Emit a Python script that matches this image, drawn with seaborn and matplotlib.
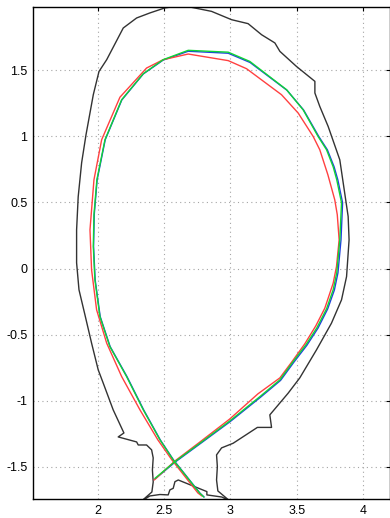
import numpy as np
import pandas as pd
import matplotlib
matplotlib.use("Agg")
import matplotlib.pyplot as plt
from matplotlib.ticker import FuncFormatter
import seaborn as sns

# Vessel wall outline (R, Z)
wall_r = [2.330, 2.407, 2.417, 2.411, 2.417, 2.405, 2.367, 2.304, 2.292, 2.153,
          2.196, 2.115, 2.040, 2.002, 1.952, 1.902, 1.857, 1.839, 1.839, 1.851,
          1.877, 1.910, 1.965, 2.008, 2.066, 2.191, 2.292, 2.392, 2.505, 2.618,
          2.694, 2.857, 3.008, 3.133, 3.235, 3.335, 3.373, 3.498, 3.637, 3.637,
          3.674, 3.737, 3.825, 3.888, 3.895, 3.876, 3.838, 3.762, 3.649, 3.523,
          3.435, 3.297, 3.310, 3.203, 3.020, 2.933, 2.895, 2.901, 2.895, 2.905,
          2.950, 2.995, 2.935, 2.822, 2.822, 2.606, 2.581, 2.568, 2.543, 2.530,
          2.468, 2.392, 2.330]
wall_z = [-1.760, -1.692, -1.616, -1.525, -1.434, -1.373, -1.336, -1.336, -1.313, -1.275,
          -1.245, -1.070, -0.868, -0.767, -0.565, -0.351, -0.161, 0.043, 0.293, 0.543,
          0.801, 1.013, 1.316, 1.492, 1.581, 1.821, 1.897, 1.935, 1.973, 1.990,
          1.980, 1.947, 1.884, 1.854, 1.770, 1.708, 1.644, 1.530, 1.417, 1.329,
          1.227, 1.076, 0.823, 0.394, 0.217, -0.061, -0.237, -0.414, -0.616, -0.828,
          -0.944, -1.108, -1.203, -1.203, -1.323, -1.358, -1.411, -1.500, -1.601, -1.684,
          -1.722, -1.760, -1.730, -1.714, -1.689, -1.601, -1.614, -1.664, -1.676, -1.714,
          -1.711, -1.722, -1.760]

# Plasma boundaries
green_r = [2.430, 2.581, 2.769, 2.995, 3.222, 3.373, 3.471, 3.569, 3.652, 3.725,
           3.775, 3.802, 3.825, 3.838, 3.802, 3.775, 3.725, 3.661, 3.548, 3.423,
           3.146, 2.983, 2.681, 2.492, 2.342, 2.179, 2.053, 1.992, 1.970, 1.965,
           1.977, 2.015, 2.090, 2.216, 2.342, 2.468, 2.568, 2.769, 2.799]
green_z = [-1.589, -1.462, -1.323, -1.154, -0.970, -0.843, -0.707, -0.578, -0.449, -0.305,
           -0.161, -0.033, 0.217, 0.498, 0.672, 0.770, 0.899, 1.000, 1.202, 1.354,
           1.568, 1.638, 1.652, 1.581, 1.475, 1.278, 0.975, 0.672, 0.407, 0.167,
           -0.085, -0.364, -0.591, -0.818, -1.070, -1.297, -1.449, -1.702, -1.730]

blue_r = [2.432, 2.583, 2.772, 2.999, 3.227, 3.378, 3.477, 3.576, 3.660, 3.733,
          3.784, 3.811, 3.834, 3.846, 3.810, 3.782, 3.731, 3.666, 3.552, 3.426,
          3.148, 2.983, 2.681, 2.492, 2.342, 2.180, 2.055, 1.994, 1.972, 1.967,
          1.979, 2.017, 2.092, 2.219, 2.345, 2.470, 2.570, 2.771, 2.801]
blue_z = [-1.592, -1.465, -1.326, -1.158, -0.974, -0.847, -0.711, -0.582, -0.452, -0.307,
          -0.163, -0.033, 0.217, 0.498, 0.672, 0.770, 0.899, 1.000, 1.200, 1.350,
          1.560, 1.630, 1.645, 1.578, 1.473, 1.276, 0.975, 0.672, 0.407, 0.167,
          -0.085, -0.364, -0.591, -0.818, -1.070, -1.297, -1.449, -1.702, -1.730]

red_r = [2.425, 2.581, 2.769, 2.995, 3.207, 3.373, 3.463, 3.561, 3.644, 3.712,
         3.775, 3.800, 3.820, 3.806, 3.787, 3.735, 3.674, 3.624, 3.511, 3.385,
         3.121, 2.983, 2.681, 2.492, 2.367, 2.166, 2.028, 1.970, 1.940, 1.952,
         1.990, 2.066, 2.179, 2.317, 2.452, 2.558, 2.754, 2.784]
red_z = [-1.601, -1.457, -1.314, -1.139, -0.949, -0.828, -0.707, -0.570, -0.434, -0.300,
         -0.111, 0.015, 0.217, 0.407, 0.520, 0.710, 0.899, 1.000, 1.177, 1.316,
         1.513, 1.574, 1.624, 1.581, 1.518, 1.297, 0.975, 0.672, 0.293, -0.010,
         -0.313, -0.565, -0.818, -1.070, -1.297, -1.449, -1.699, -1.722]

x_ticks = [2, 2.5, 3, 3.5, 4]
y_ticks = [-1.5, -1, -0.5, 0, 0.5, 1, 1.5]

sns.set_theme(style="white")
plt.rcParams['font.family'] = ['Liberation Sans', 'DejaVu Sans']
plt.rcParams['axes.unicode_minus'] = False

fig = plt.figure(figsize=(3.9, 5.18), dpi=100)
ax = fig.add_axes([33 / 390, 19 / 518, 356.5 / 390, 492 / 518])

curves = [
    (wall_r, wall_z, '#333333'),
    (blue_r, blue_z, '#1f3fe0'),
    (red_r, red_z, '#ff4040'),
    (green_r, green_z, '#10d535'),
]
for r, z, c in curves:
    df = pd.DataFrame({'R': r, 'Z': z})
    sns.lineplot(data=df, x='R', y='Z', sort=False, estimator=None,
                 color=c, linewidth=1.0, ax=ax)

ax.set_xlim(1.51, 4.2)
ax.set_ylim(-1.745, 1.98)
ax.set_xticks(x_ticks)
ax.set_yticks(y_ticks)
fmt = FuncFormatter(lambda v, p: '%g' % v)
ax.xaxis.set_major_formatter(fmt)
ax.yaxis.set_major_formatter(fmt)
ax.set_xlabel('')
ax.set_ylabel('')
ax.grid(True, color='#a5a5a5', linestyle=(0, (1, 3)), linewidth=0.8)
ax.tick_params(direction='in', top=True, right=True, length=3, width=0.8,
               labelsize=9, colors='black', pad=4)
for s in ax.spines.values():
    s.set_color('black')
    s.set_linewidth(1.0)

plt.savefig('out.png', dpi=100)
plt.close()
